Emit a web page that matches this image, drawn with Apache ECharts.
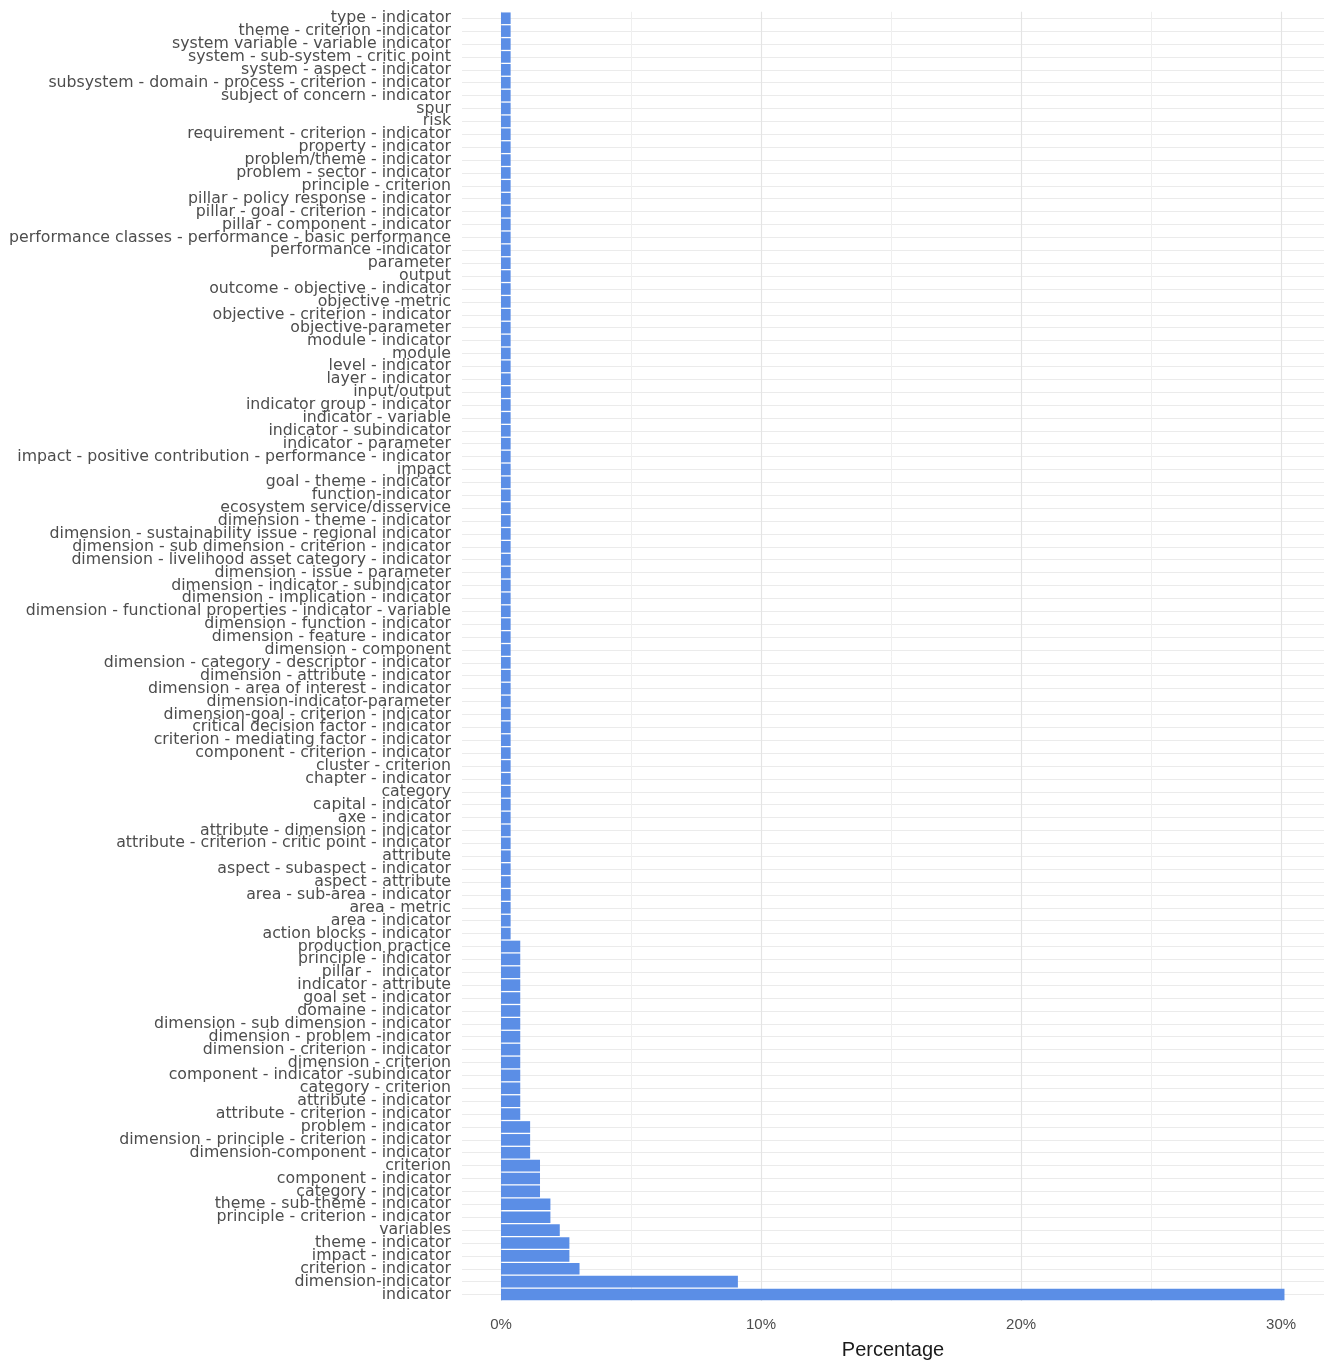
<!DOCTYPE html>
<html>
<head>
<meta charset="utf-8">
<script src="https://cdn.jsdelivr.net/npm/echarts@6/dist/echarts.min.js"></script>
<style>
html,body{margin:0;padding:0;background:#fff;}
#chart{width:1330px;height:1365px;}
</style>
</head>
<body>
<div id="chart"></div>
<script>
// Categories, top to bottom as shown in the chart
const categories = [
  "type - indicator",
  "theme - criterion -indicator",
  "system variable - variable indicator",
  "system - sub-system - critic point",
  "system - aspect - indicator",
  "subsystem - domain - process - criterion - indicator",
  "subject of concern - indicator",
  "spur",
  "risk",
  "requirement - criterion - indicator",
  "property - indicator",
  "problem/theme - indicator",
  "problem - sector - indicator",
  "principle - criterion",
  "pillar - policy response - indicator",
  "pillar - goal - criterion - indicator",
  "pillar - component - indicator",
  "performance classes - performance - basic performance",
  "performance -indicator",
  "parameter",
  "output",
  "outcome - objective - indicator",
  "objective -metric",
  "objective - criterion - indicator",
  "objective-parameter",
  "module - indicator",
  "module",
  "level - indicator",
  "layer - indicator",
  "input/output",
  "indicator group - indicator",
  "indicator - variable",
  "indicator - subindicator",
  "indicator - parameter",
  "impact - positive contribution - performance - indicator",
  "impact",
  "goal - theme - indicator",
  "function-indicator",
  "ecosystem service/disservice",
  "dimension - theme - indicator",
  "dimension - sustainability issue - regional indicator",
  "dimension - sub dimension - criterion - indicator",
  "dimension - livelihood asset category - indicator",
  "dimension - issue - parameter",
  "dimension - indicator - subindicator",
  "dimension - implication - indicator",
  "dimension - functional properties - indicator - variable",
  "dimension - function - indicator",
  "dimension - feature - indicator",
  "dimension - component",
  "dimension - category - descriptor - indicator",
  "dimension - attribute - indicator",
  "dimension - area of interest - indicator",
  "dimension-indicator-parameter",
  "dimension-goal - criterion - indicator",
  "critical decision factor - indicator",
  "criterion - mediating factor - indicator",
  "component - criterion - indicator",
  "cluster - criterion",
  "chapter - indicator",
  "category",
  "capital - indicator",
  "axe - indicator",
  "attribute - dimension - indicator",
  "attribute - criterion - critic point - indicator",
  "attribute",
  "aspect - subaspect - indicator",
  "aspect - attribute",
  "area - sub-area - indicator",
  "area - metric",
  "area - indicator",
  "action blocks - indicator",
  "production practice",
  "principle - indicator",
  "pillar -  indicator",
  "indicator - attribute",
  "goal set - indicator",
  "domaine - indicator",
  "dimension - sub dimension - indicator",
  "dimension - problem -indicator",
  "dimension - criterion - indicator",
  "dimension - criterion",
  "component - indicator -subindicator",
  "category - criterion",
  "attribute - indicator",
  "attribute - criterion - indicator",
  "problem - indicator",
  "dimension - principle - criterion - indicator",
  "dimension-component - indicator",
  "criterion",
  "component - indicator",
  "category - indicator",
  "theme - sub-theme - indicator",
  "principle - criterion - indicator",
  "variables",
  "theme - indicator",
  "impact - indicator",
  "criterion - indicator",
  "dimension-indicator",
  "indicator"
];

// Percentage values (same order as categories)
const percentages = [
  0.37, 0.37, 0.37, 0.37, 0.37, 0.37, 0.37, 0.37, 0.37, 0.37,
  0.37, 0.37, 0.37, 0.37, 0.37, 0.37, 0.37, 0.37, 0.37, 0.37,
  0.37, 0.37, 0.37, 0.37, 0.37, 0.37, 0.37, 0.37, 0.37, 0.37,
  0.37, 0.37, 0.37, 0.37, 0.37, 0.37, 0.37, 0.37, 0.37, 0.37,
  0.37, 0.37, 0.37, 0.37, 0.37, 0.37, 0.37, 0.37, 0.37, 0.37,
  0.37, 0.37, 0.37, 0.37, 0.37, 0.37, 0.37, 0.37, 0.37, 0.37,
  0.37, 0.37, 0.37, 0.37, 0.37, 0.37, 0.37, 0.37, 0.37, 0.37,
  0.37, 0.37,
  0.74, 0.74, 0.74, 0.74, 0.74, 0.74, 0.74, 0.74, 0.74, 0.74,
  0.74, 0.74, 0.74, 0.74,
  1.12, 1.12, 1.12,
  1.50, 1.50, 1.50,
  1.90, 1.90,
  2.26,
  2.63, 2.63,
  3.02,
  9.11,
  30.13
];

const xTickValues = [0, 10, 20, 30];
const xMinorValues = [5, 15, 25];

const gridLines = []
  .concat(categories.map(c => ({ yAxis: c, lineStyle: { color: '#ebebeb', width: 1, type: 'solid' } })))
  .concat(xMinorValues.map(v => ({ xAxis: v, lineStyle: { color: '#efefef', width: 1, type: 'solid' } })))
  .concat(xTickValues.map(v => ({ xAxis: v, lineStyle: { color: '#e4e4e4', width: 1.2, type: 'solid' } })));

const chart = echarts.init(document.getElementById('chart'), null, { renderer: 'canvas' });
chart.setOption({
  animation: false,
  backgroundColor: '#ffffff',
  grid: { left: 462, right: 6, top: 11.8, height: 1294, containLabel: false },
  xAxis: {
    type: 'value',
    min: -1.5,
    max: 31.65,
    splitLine: { show: false },
    axisLine: { show: false },
    axisTick: { show: false },
    axisLabel: {
      customValues: xTickValues,
      formatter: v => v + '%',
      color: '#4d4d4d',
      fontSize: 15,
      fontFamily: 'Liberation Sans Narrow, Arial Narrow, Liberation Sans, sans-serif',
      margin: 16
    },
    name: 'Percentage',
    nameLocation: 'middle',
    nameGap: 39,
    nameTextStyle: { color: '#1a1a1a', fontSize: 20, fontFamily: 'Liberation Sans Narrow, Liberation Sans, sans-serif' }
  },
  yAxis: {
    type: 'category',
    data: categories,
    inverse: true,
    axisLine: { show: false },
    axisTick: { show: false },
    splitLine: { show: false },
    axisLabel: {
      interval: 0,
      color: '#4d4d4d',
      fontSize: 15.75,
      fontFamily: 'DejaVu Sans, sans-serif',
      margin: 11,
      padding: [8, 0, 0, 0]
    }
  },
  series: [
    {
      type: 'line',
      data: [],
      z: 1,
      silent: true,
      markLine: {
        silent: true,
        z: 1,
        symbol: ['none', 'none'],
        label: { show: false },
        animation: false,
        lineStyle: { type: 'solid' },
        data: gridLines
      }
    },
    {
      type: 'bar',
      data: percentages,
      z: 3,
      barCategoryGap: '10%',
      itemStyle: { color: '#5b8ee6' }
    }
  ]
});
</script>
</body>
</html>
